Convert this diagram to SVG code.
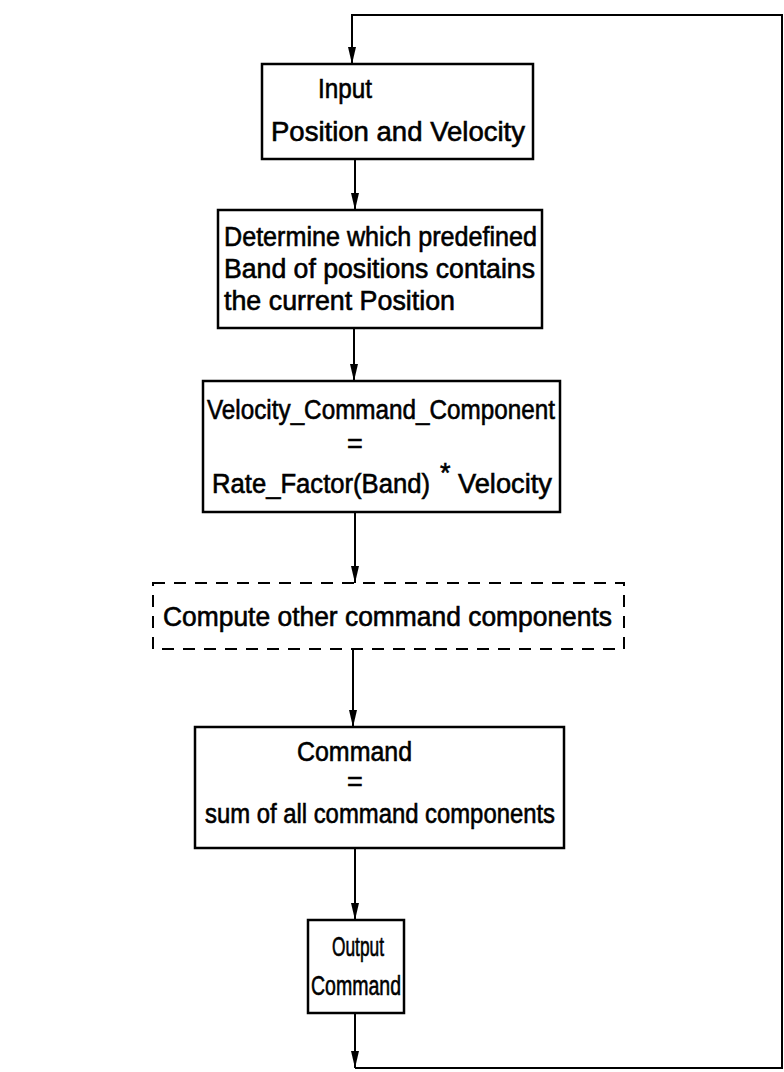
<svg xmlns="http://www.w3.org/2000/svg" width="784" height="1072" viewBox="0 0 784 1072">
  <style>
    .box { fill: #fff; stroke: #000; stroke-width: 2.5; }
    .dash { fill: #fff; stroke: #000; stroke-width: 2; stroke-dasharray: 12 9; }
    .wire { fill: none; stroke: #000; stroke-width: 2; }
    text { font-family: "Liberation Sans", Arial, sans-serif; font-size: 27px; fill: #000; stroke: #000; stroke-width: 0.6; }
    .c { text-anchor: middle; }
  </style>
  <defs>
    <marker id="head" markerWidth="18" markerHeight="10" refX="17" refY="5" orient="auto" markerUnits="userSpaceOnUse" viewBox="0 0 18 10">
      <path d="M0,1 L17,5 L0,9 Z" fill="#000"/>
    </marker>
  </defs>

  <rect width="784" height="1072" fill="#fff"/>

  <!-- connectors -->
  <g id="connectors">
    <path class="wire" d="M355,1013 L355,1068" marker-end="url(#head)"/>
    <path class="wire" d="M355,1068 L782,1068 L782,15 L352,15 L352,64" marker-end="url(#head)"/>
    <path class="wire" d="M355,159 L355,210" marker-end="url(#head)"/>
    <path class="wire" d="M354,328 L354,381" marker-end="url(#head)"/>
    <path class="wire" d="M355,512 L355,583" marker-end="url(#head)"/>
    <path class="wire" d="M353,649 L353,727" marker-end="url(#head)"/>
    <path class="wire" d="M355,848 L355,920" marker-end="url(#head)"/>
  </g>

  <g id="input">
    <rect class="box" x="262" y="64" width="271" height="95"/>
    <text x="318" y="98" textLength="54" lengthAdjust="spacingAndGlyphs">Input</text>
    <text x="271" y="141" textLength="254" lengthAdjust="spacingAndGlyphs">Position and Velocity</text>
  </g>

  <g id="band">
    <rect class="box" x="218" y="210" width="324" height="118"/>
    <text x="224" y="246" textLength="313" lengthAdjust="spacingAndGlyphs">Determine which predefined</text>
    <text x="224" y="278" textLength="311" lengthAdjust="spacingAndGlyphs">Band of positions contains</text>
    <text x="224" y="310" textLength="231" lengthAdjust="spacingAndGlyphs">the current Position</text>
  </g>

  <g id="velocity">
    <rect class="box" x="203" y="381" width="357" height="131"/>
    <text x="207" y="419" textLength="348" lengthAdjust="spacingAndGlyphs">Velocity_Command_Component</text>
    <text class="c" x="355" y="453">=</text>
    <text x="212" y="493" textLength="218" lengthAdjust="spacingAndGlyphs">Rate_Factor(Band)</text>
    <text x="440" y="482" font-size="20">*</text>
    <text x="458" y="493" textLength="94" lengthAdjust="spacingAndGlyphs">Velocity</text>
  </g>

  <g id="other">
    <rect class="dash" x="153" y="583" width="471" height="66"/>
    <text x="163" y="626" textLength="449" lengthAdjust="spacingAndGlyphs">Compute other command components</text>
  </g>

  <g id="command">
    <rect class="box" x="195" y="727" width="369" height="121"/>
    <text x="297" y="761" textLength="115" lengthAdjust="spacingAndGlyphs">Command</text>
    <text class="c" x="355" y="791">=</text>
    <text x="205" y="823" textLength="350" lengthAdjust="spacingAndGlyphs">sum of all command components</text>
  </g>

  <g id="output">
    <rect class="box" x="308" y="920" width="96" height="93"/>
    <text x="332" y="956" textLength="52" lengthAdjust="spacingAndGlyphs" font-size="27">Output</text>
    <text x="311" y="995" textLength="90" lengthAdjust="spacingAndGlyphs" font-size="27">Command</text>
  </g>
</svg>
